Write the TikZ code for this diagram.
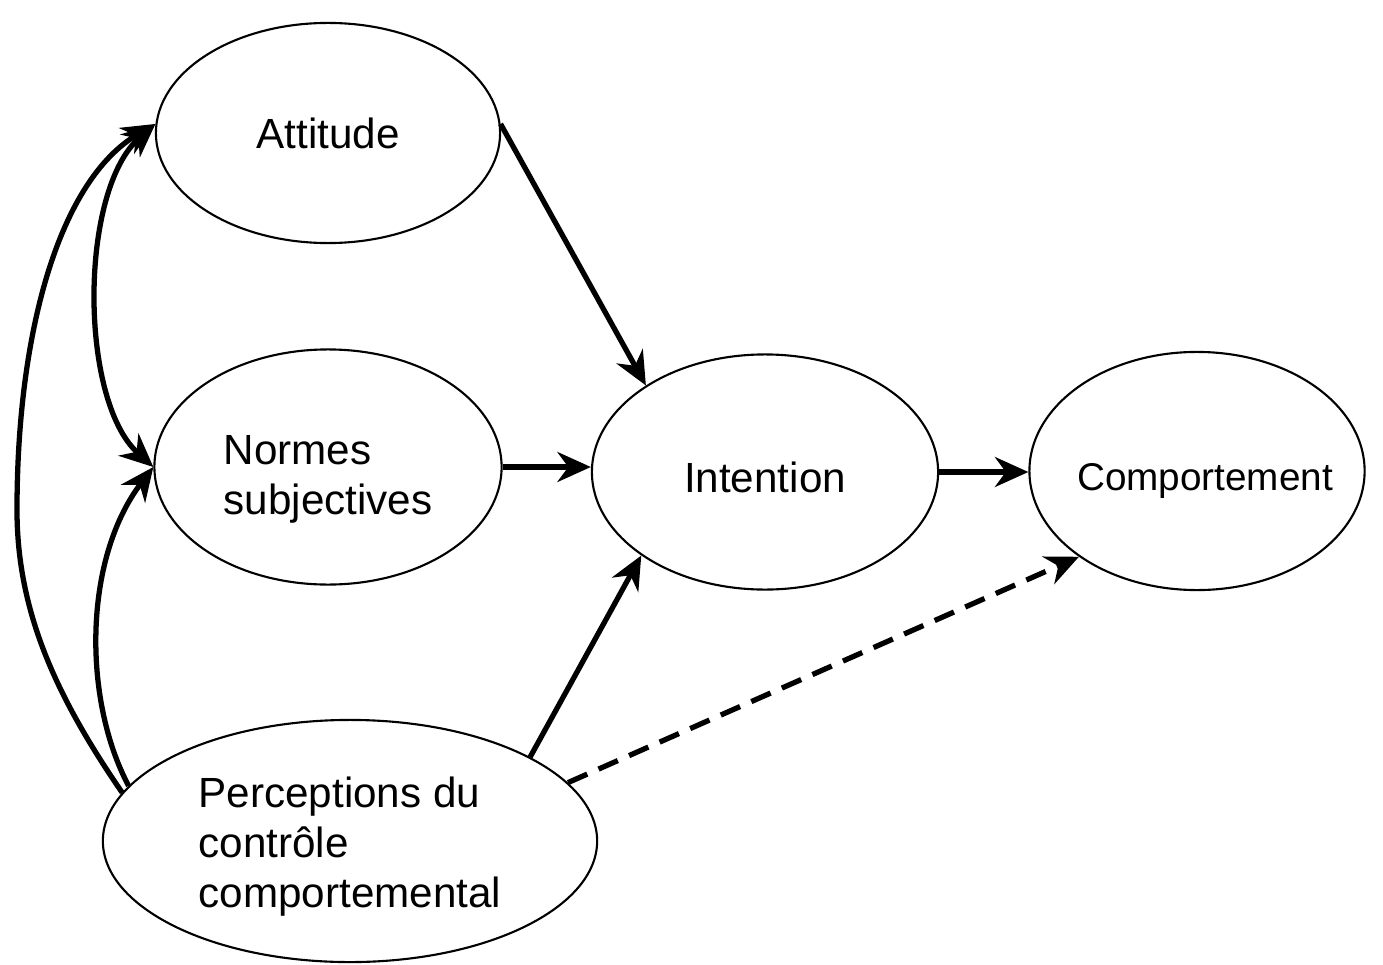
\documentclass[tikz,border=0pt]{standalone}
\usepackage{fontspec}
\setmainfont{Liberation Sans}
\usetikzlibrary{arrows.meta,shapes.geometric}

\tikzset{
  construct/.style={draw, ellipse, line width=0.6pt, inner sep=0pt},
  link/.style={line width=1.5pt, ->},
}

\begin{document}
\begin{tikzpicture}[x=0.01cm, y=-0.01cm, >={Stealth[length=9.5pt,width=8.5pt]},
    font=\fontsize{12}{14.2}\selectfont]
    %\draw[help lines] (0,0) grid[step=100] (1383,964);
    \useasboundingbox (0,0) rectangle (1383,964);

    \node[construct, minimum width=3.44cm, minimum height=2.2cm,
          label={center:Attitude}] (att) at (328,133) {};
    \node[construct, minimum width=3.47cm, minimum height=2.35cm,
          label={[align=left, yshift=-0.12cm]center:{Normes\\subjectives}}] (norm) at (328,467) {};
    \node[construct, minimum width=3.46cm, minimum height=2.35cm,
          label={[yshift=-0.05cm]center:Intention}] (int) at (765,472) {};
    \node[construct, minimum width=3.35cm, minimum height=2.38cm,
          label={[font=\fontsize{11}{13}\selectfont, xshift=0.08cm, yshift=-0.1cm]center:Comportement}] (comp) at (1197,471) {};
    \node[construct, minimum width=4.94cm, minimum height=2.42cm,
          label={[align=left, yshift=-0.06cm]center:{Perceptions du\\contrôle\\comportemental}}] (perc) at (350,841) {};

    % direct paths
    \draw[link] (att.3) -- (int.144);
    \draw[link] (norm.east) -- (norm.east -| int.west);
    \draw[link] (perc.25) -- (int.214);
    \draw[link] (int.east) -- (int.east -| comp.west);
    \draw[link, dashed, dash pattern=on 6pt off 3.5pt] (perc.15) -- (comp.216);

    % correlations on the left
    \coordinate (bend) at (17,510);
    \draw[link] (perc.168) .. controls (55,695) and (17,610) .. (bend)
                .. controls (17,330) and (60,180) .. (att.177);
    \draw[link, <->] (att.177) .. controls (79,190) and (79,400) .. (norm.west);
    \draw[link] (perc.166) .. controls (83,700) and (83,560) .. (norm.west);
\end{tikzpicture}
\end{document}
